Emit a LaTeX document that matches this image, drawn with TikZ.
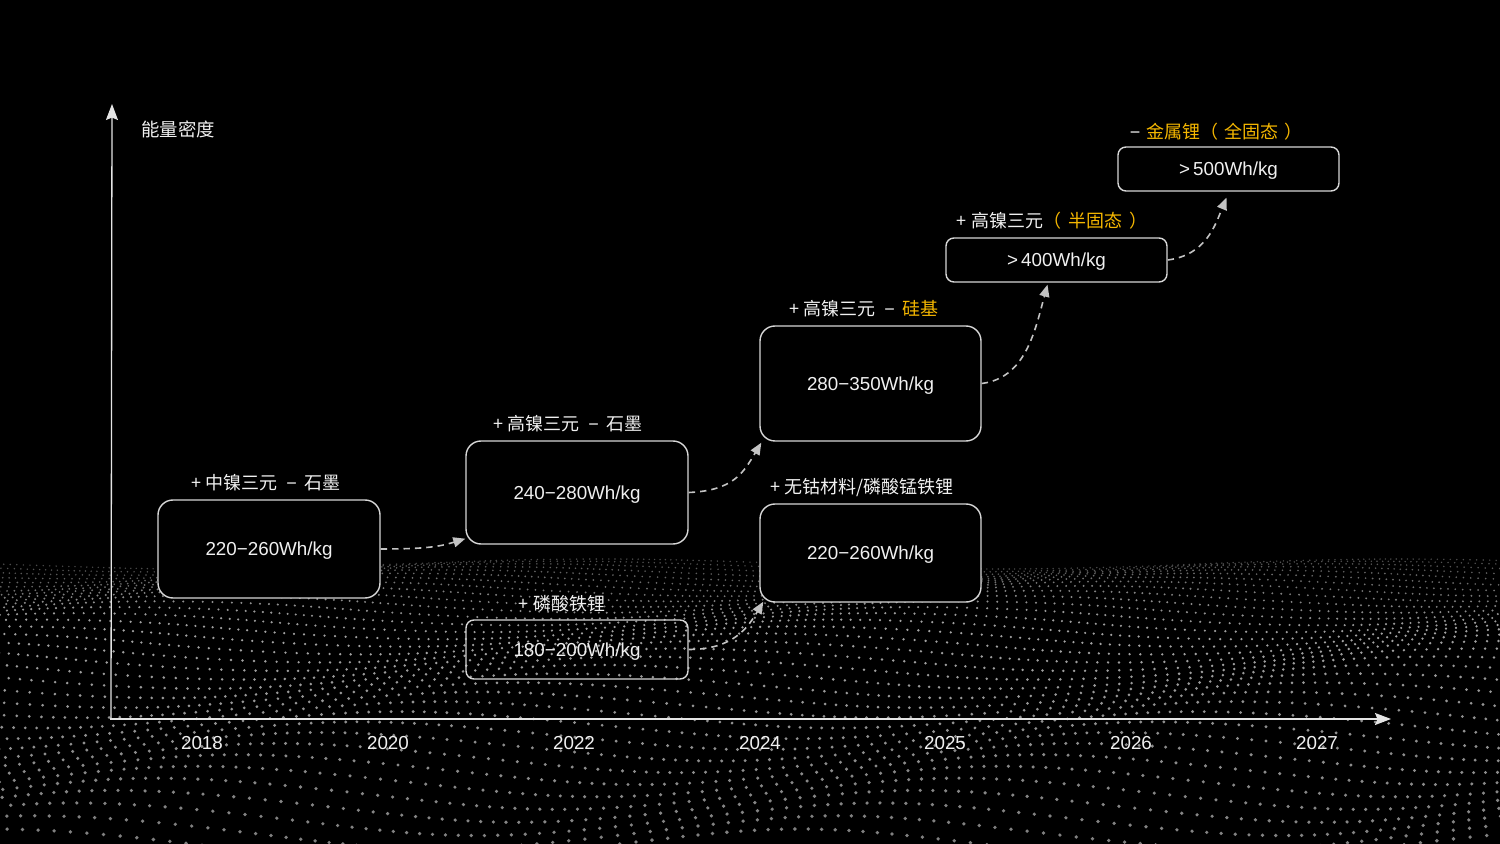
\documentclass[tikz,border=0pt]{standalone}
\usepackage{fontspec}
\setmainfont{Liberation Sans}
\newfontfamily\cjk{Noto Sans CJK SC}
\usetikzlibrary{arrows.meta}
\definecolor{ylw}{RGB}{245,183,0}
\definecolor{txt}{RGB}{240,240,240}
\definecolor{brd}{RGB}{215,215,215}
\definecolor{arrc}{RGB}{195,195,195}
\definecolor{axc}{RGB}{228,228,228}
\newcommand{\mdash}{\hspace{4.5pt}{\rmfamily −}\hspace{4pt}}
\begin{document}
\begin{tikzpicture}[x=0.5pt,y=-0.5pt,
  bigbox/.style={draw=brd, line width=0.7pt, rounded corners=7.5pt, fill=black, inner sep=0pt,
     minimum width=110.5pt, text=txt, text depth=0pt, font=\fontsize{9.4}{11}\selectfont},
  smallbox/.style={bigbox, rounded corners=4pt},
  lbl/.style={text=txt, inner sep=0pt, font=\cjk\fontsize{9}{11}\selectfont},
  yr/.style={text=txt, inner sep=0pt, font=\fontsize{9.4}{11}\selectfont},
  conn/.style={draw=arrc, line width=0.8pt, dash pattern=on 3.2pt off 2.5pt,
     -{Triangle[length=6pt,width=5pt,fill=arrc]}},
  axis/.style={draw=axc, line width=0.65pt, -{Stealth[length=8pt,width=6pt,inset=1.2pt]}}]
\fill[black] (0,0) rectangle (1500,844);
\useasboundingbox (0,0) rectangle (1500,844);
% dotted wave ground
\foreach \r in {0,...,35}{
  \pgfmathsetmacro\t{\r/35}
  \pgfmathsetmacro\s{6+9*\t}
  \pgfmathsetmacro\yo{564+282*(0.3*\t+0.7*\t*\t)}
  \pgfmathsetmacro\am{5+12*\t}
  \pgfmathsetmacro\ax{3+5*\t}
  \pgfmathtruncatemacro\N{760/\s+1}
  \pgfmathsetmacro\rad{0.8+1.1*\t}
  \pgfmathtruncatemacro\br{min(75,30+110*\t)-25*\t}
  \fill[white!\br!black] \foreach \c in {-\N,...,\N}{
    ({750+\c*\s+\ax*sin(\r*35+\c*12)},{\yo+\am*sin((750+\c*\s)*0.45+\r*18)}) circle[radius=\rad]
  };
}
% axes
\coordinate (o) at (111,719);
\coordinate (ytop) at (112,104);
\coordinate (xend) at (1391,719);
\draw[axis] ([xshift=-0.5pt]o) -- (xend);
\draw[axis] (o) -- (ytop);
\node[lbl, font=\cjk\fontsize{9.2}{11}\selectfont] (ylab) at (178,129) {能量密度};
% years
\node[yr] (y18) at (202,743) {2018};
\node[yr] (y20) at (388,743) {2020};
\node[yr] (y22) at (574,743) {2022};
\node[yr] (y24) at (760,743) {2024};
\node[yr] (y25) at (945,743) {2025};
\node[yr] (y26) at (1131,743) {2026};
\node[yr] (y27) at (1317,743) {2027};
% boxes
\node[bigbox, minimum height=49pt, minimum width=111pt] (b1) at (269,549) {220−260Wh/kg};
\node[bigbox, minimum height=51.5pt, minimum width=111pt] (b2) at (577,492.5) {240−280Wh/kg};
\node[smallbox, minimum height=29.5pt, minimum width=111pt, fill=none] (b3) at (577,649.5) {180−200Wh/kg};
\node[bigbox, minimum height=57.5pt] (b4) at (870.5,383.5) {280−350Wh/kg};
\node[bigbox, minimum height=49pt] (b5) at (870.5,553) {220−260Wh/kg};
\node[smallbox, minimum height=22pt] (b6) at (1056.5,260) {\textgreater\,400Wh/kg};
\node[smallbox, minimum height=22pt] (b7) at (1228.5,169) {\textgreater\,500Wh/kg};
% labels
\node[lbl] (l1) at (266,483) {+ 中镍三元\mdash 石墨};
\node[lbl] (l2) at (568,424) {+ 高镍三元\mdash 石墨};
\node[lbl] (l3) at (562,604) {+ 磷酸铁锂};
\node[lbl] (l4) at (864,309) {+ 高镍三元\mdash\textcolor{ylw}{硅基}};
\node[lbl] (l5) at (862,488) {+ 无钴材料/磷酸锰铁锂};
\node[lbl] (l6) at (1052,221) {+ 高镍三元\textcolor{ylw}{（\hspace{3.5pt}半固态\hspace{3.5pt}）}};
\node[lbl] (l7) at (1216,132) {{\rmfamily −}\hspace{3pt}\textcolor{ylw}{金属锂（\hspace{3pt}全固态\hspace{3pt}）}};
% connectors
\draw[conn] (b1.east) .. controls +(45,0) and +(-26,8) .. ([yshift=3pt]b2.south west);
\draw[conn] (b2.east) .. controls +(45,-2) and +(-18,30) .. ([xshift=1pt,yshift=-0.5pt]b4.south west);
\draw[conn] (b3.east) .. controls +(45,0) and +(-15,25) .. ([xshift=2pt,yshift=0.5pt]b5.south west);
\draw[conn] (b4.east) .. controls +(44,-5.5) and +(-12.5,46) .. ([xshift=-4.5pt,yshift=-1pt]b6.south);
\draw[conn] (b6.east) .. controls +(38,-5) and +(-11.5,28) .. ([xshift=-1pt,yshift=-3pt]b7.south);
\end{tikzpicture}
\end{document}
